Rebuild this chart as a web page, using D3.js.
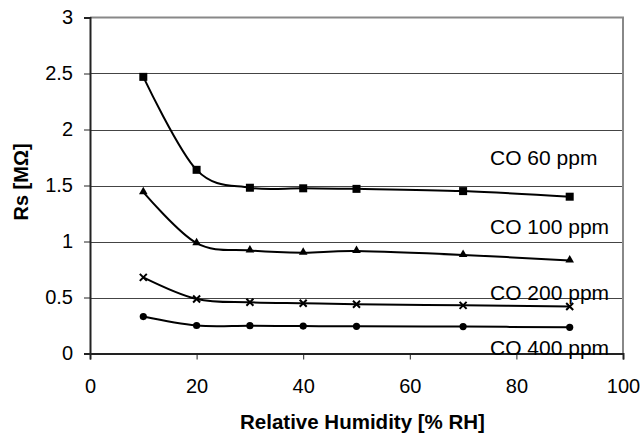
<!DOCTYPE html>
<html>
<head>
<meta charset="utf-8">
<script src="https://cdn.jsdelivr.net/npm/d3@7"></script>
<style>
  body { margin: 0; background: #fff; }
  svg { display: block; }
</style>
</head>
<body>
<div id="chart"></div>
<script>
// data
var humidity = [10, 20, 30, 40, 50, 70, 90];
var co60 = [2.47, 1.64, 1.48, 1.475, 1.47, 1.45, 1.40];
var co100 = [1.44, 0.985, 0.92, 0.90, 0.915, 0.88, 0.83];
var co200 = [0.68, 0.487, 0.457, 0.448, 0.44, 0.43, 0.42];
var co400 = [0.33, 0.25, 0.248, 0.245, 0.243, 0.24, 0.234];
var seriesNames = ['CO 60 ppm', 'CO 100 ppm', 'CO 200 ppm', 'CO 400 ppm'];
var markers = ['square', 'triangle', 'cross', 'circle'];
var xTicks = [0, 20, 40, 60, 80, 100];
var yTicks = [0, 0.5, 1, 1.5, 2, 2.5, 3];

var attrs = {
  svgWidth: 642,
  svgHeight: 435,
  plotLeft: 90,
  plotRight: 623,
  plotTop: 17.5,
  plotBottom: 353.5,
  font: 'Liberation Sans, Arial, sans-serif'
};

var series = [co60, co100, co200, co400].map(function (vals, i) {
  return { name: seriesNames[i], marker: markers[i], values: vals.map(function (v, j) { return { x: humidity[j], y: v }; }) };
});

var svg = d3.select('#chart').append('svg')
  .attr('width', attrs.svgWidth)
  .attr('height', attrs.svgHeight)
  .attr('font-family', attrs.font);

var x = d3.scaleLinear().domain([0, 100]).range([attrs.plotLeft, attrs.plotRight]);
var y = d3.scaleLinear().domain([0, 3]).range([attrs.plotBottom, attrs.plotTop]);

// gridlines
svg.append('g').selectAll('line').data(yTicks.filter(function (d) { return d > 0 && d < 3; }))
  .enter().append('line')
  .attr('x1', attrs.plotLeft).attr('x2', attrs.plotRight)
  .attr('y1', function (d) { return Math.round(y(d)) + 0.5; })
  .attr('y2', function (d) { return Math.round(y(d)) + 0.5; })
  .attr('stroke', '#444').attr('stroke-width', 1);

// plot border top/right
svg.append('path')
  .attr('d', 'M' + attrs.plotLeft + ',' + y(3) + 'H' + attrs.plotRight + 'V' + attrs.plotBottom)
  .attr('fill', 'none').attr('stroke', '#888').attr('stroke-width', 2);

// axes
var yAxis = svg.append('g')
  .attr('transform', 'translate(' + attrs.plotLeft + ',0)')
  .call(d3.axisLeft(y).tickValues(yTicks).tickSize(6).tickPadding(11).tickFormat(d3.format('')));
var xAxis = svg.append('g')
  .attr('transform', 'translate(0,' + attrs.plotBottom + ')')
  .call(d3.axisBottom(x).tickValues(xTicks).tickSize(6).tickPadding(19).tickFormat(d3.format('')));

[xAxis, yAxis].forEach(function (ax) {
  ax.select('.domain').attr('stroke', '#222').attr('stroke-width', 2);
  ax.selectAll('.tick line').attr('stroke', '#222').attr('stroke-width', 1);
  ax.selectAll('.tick text').attr('fill', '#000').attr('font-size', 20).attr('font-family', attrs.font);
});

// curves
var line = d3.line()
  .x(function (d) { return x(d.x); })
  .y(function (d) { return y(d.y); })
  .curve(d3.curveCardinal.tension(0));

var g = svg.append('g');
series.forEach(function (s) {
  g.append('path')
    .attr('d', line(s.values))
    .attr('fill', 'none')
    .attr('stroke', '#000')
    .attr('stroke-width', 2);

  var pts = g.append('g').selectAll('.m').data(s.values).enter();
  if (s.marker === 'square') {
    pts.append('rect')
      .attr('x', function (d) { return x(d.x) - 4; })
      .attr('y', function (d) { return y(d.y) - 4; })
      .attr('width', 8).attr('height', 8).attr('fill', '#000');
  } else if (s.marker === 'triangle') {
    pts.append('path')
      .attr('d', d3.symbol().type(d3.symbolTriangle).size(32))
      .attr('transform', function (d) { return 'translate(' + x(d.x) + ',' + (y(d.y) - 0.5) + ')'; })
      .attr('fill', '#000');
  } else if (s.marker === 'cross') {
    pts.append('path')
      .attr('d', 'M-3.5,-3.5L3.5,3.5M-3.5,3.5L3.5,-3.5')
      .attr('transform', function (d) { return 'translate(' + x(d.x) + ',' + y(d.y) + ')'; })
      .attr('stroke', '#000').attr('stroke-width', 2);
  } else {
    pts.append('circle')
      .attr('cx', function (d) { return x(d.x); })
      .attr('cy', function (d) { return y(d.y); })
      .attr('r', 3.6).attr('fill', '#000');
  }
});

// series labels
svg.append('g').selectAll('text').data(series).enter().append('text')
  .attr('x', 490)
  .attr('y', function (d, i) { return [165, 234, 299.5, 354.5][i]; })
  .attr('font-size', 21)
  .attr('fill', '#000')
  .text(function (d) { return d.name; });

// axis titles
svg.append('text')
  .attr('x', 362.5)
  .attr('y', 429)
  .attr('text-anchor', 'middle')
  .attr('font-size', 20.5)
  .attr('font-weight', 'bold')
  .text('Relative Humidity [% RH]');

svg.append('text')
  .attr('transform', 'translate(28,182) rotate(-90)')
  .attr('text-anchor', 'middle')
  .attr('font-size', 20)
  .attr('font-weight', 'bold')
  .text('Rs [MΩ]');
</script>
</body>
</html>
